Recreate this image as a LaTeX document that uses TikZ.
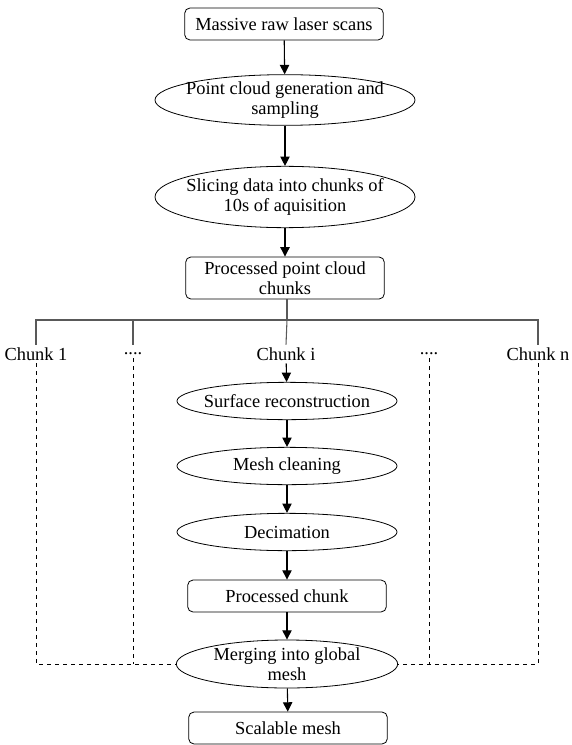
\documentclass[tikz,border=0pt]{standalone}
\usepackage{fontspec}
\setmainfont{Liberation Serif}
\usetikzlibrary{shapes.geometric,arrows.meta}
\begin{document}
\begin{tikzpicture}[x=0.75pt,y=-0.75pt,
		font=\fontsize{13.8}{15.2}\selectfont,
		>={Triangle[length=7pt,width=7pt]},
		flowbox/.style={rectangle, rounded corners=4pt, draw=black, line width=0.6pt, minimum width=149pt, align=center},
		flowell/.style={ellipse, draw=black, line width=0.6pt, inner sep=-8pt, align=center},
		chunklabel/.style={inner sep=2pt},
		flow/.style={->, line width=0.8pt},
		branch/.style={line width=0.8pt, draw=black!65},
		hidden/.style={dashed, line width=0.6pt}]
		\useasboundingbox (0,0) rectangle (571,745);
		\node[flowbox, minimum height=24pt](scans) at (284,24){Massive raw laser scans};
		\node[flowell, minimum width=195pt, minimum height=38pt](sampling) at (285,100){Point cloud generation and\\ sampling};
		\node[flowell, minimum width=195pt, minimum height=46pt](slicing) at (285,197){Slicing data into chunks of\\ 10s of aquisition};
		\node[flowbox, minimum height=30pt](chunks) at (285,278){Processed point cloud\\ chunks};
		\coordinate (split) at (287,320);
		\node[chunklabel](chunkone) at (36,354){Chunk 1};
		\node[chunklabel](dotsleft) at (133,354){....};
		\node[chunklabel](chunki) at (286,354){Chunk i};
		\node[chunklabel](dotsright) at (429,354){....};
		\node[chunklabel](chunkn) at (538,354){Chunk n};
		\node[flowell, minimum width=165pt, minimum height=28pt](surface) at (287,401){Surface reconstruction};
		\node[flowell, minimum width=165pt, minimum height=28pt](cleaning) at (287,466){Mesh cleaning};
		\node[flowell, minimum width=165pt, minimum height=28pt](decimation) at (287,532){Decimation};
		\node[flowbox, minimum height=24pt](processed) at (287,596){Processed chunk};
		\node[flowell, minimum width=166pt, minimum height=36pt](merging) at (287,664){Merging into global\\ mesh};
		\node[flowbox, minimum height=24pt](scalable) at (288,728){Scalable mesh};
		\draw[flow] (scans) -- (sampling);
		\draw[flow] (sampling) -- (slicing);
		\draw[flow] (slicing) -- (chunks);
		\draw[branch] (chunks.south -| split) -- (split);
		\draw[branch] (chunkone.north) |- (split) -| (chunkn.north);
		\draw[branch] (dotsleft |- split) -- (dotsleft |- chunkone.north);
		\draw[branch] (split) -- (chunki.north);
		\draw[flow] (chunki) -- (surface);
		\draw[flow] (surface) -- (cleaning);
		\draw[flow] (cleaning) -- (decimation);
		\draw[flow] (decimation) -- (processed);
		\draw[flow] (processed) -- (merging);
		\draw[flow] (merging) -- (scalable);
		\draw[hidden] (chunkone.south) |- (merging.west);
		\draw[hidden] (dotsleft.south) -- (dotsleft |- merging.west);
		\draw[hidden] (chunkn.south) |- (merging.east);
		\draw[hidden] (dotsright.south) -- (dotsright |- merging.east);
	\end{tikzpicture}
\end{document}
